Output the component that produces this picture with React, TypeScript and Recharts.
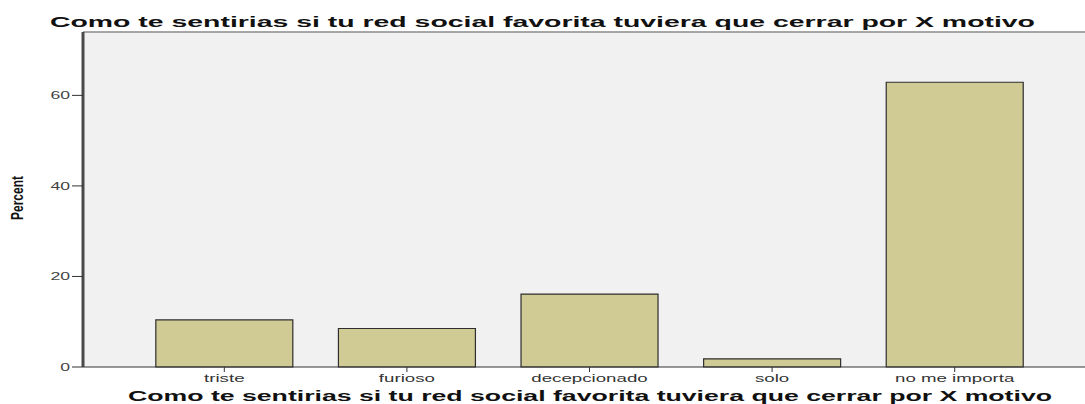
import React from "react";
import { BarChart, Bar, XAxis, YAxis, CartesianGrid, ReferenceLine } from "recharts";

const categories = ["triste", "furioso", "decepcionado", "solo", "no me importa"];
const percents = [10.4, 8.5, 16.1, 1.8, 62.9];
const yTicks = [0, 20, 40, 60];
const titleText = "Como te sentirias si tu red social favorita tuviera que cerrar por X motivo";
const yLabelText = "Percent";

const data = categories.map((c, i) => ({ name: c, value: percents[i] }));

const FONT = "'Liberation Sans', Arial, sans-serif";

const XTick = (props: any) => {
  const { x, y, payload } = props;
  return (
    <g transform={`translate(${x},${y})`}>
      <text transform="scale(1.7,1)" dy="0.71em" textAnchor="middle" fontSize={11} fill="#333" fontFamily={FONT}>
        {payload.value}
      </text>
    </g>
  );
};

const YTick = (props: any) => {
  const { x, y, payload } = props;
  return (
    <g transform={`translate(${x},${y})`}>
      <text transform="scale(1.6,1)" dy="0.355em" textAnchor="end" fontSize={11} fill="#444" fontFamily={FONT}>
        {payload.value}
      </text>
    </g>
  );
};

export default function App() {
  return (
    <div style={{ position: "absolute", left: 0, top: 0, width: 1085, height: 404, background: "#fff" }}>
      <BarChart
        width={1085}
        height={404}
        data={data}
        margin={{ top: 32, right: 0, bottom: 0, left: 0 }}
        barCategoryGap="12.5%"
      >
        <CartesianGrid fill="#f0f1f0" horizontal={false} vertical={false} stroke="none" />
        <ReferenceLine y={74} stroke="#8a8a8a" strokeWidth={1.5} ifOverflow="extendDomain" />
        <XAxis
          dataKey="name"
          height={37}
          padding={{ left: 50, right: 39 }}
          tickSize={5}
          tickMargin={2}
          axisLine={{ stroke: "#333", strokeWidth: 1 }}
          tickLine={{ stroke: "#333" }}
          tick={<XTick />}
          interval={0}
        />
        <YAxis
          width={83}
          domain={[0, 74]}
          ticks={yTicks}
          tickSize={11}
          tickMargin={2}
          axisLine={{ stroke: "#4a4a4a", strokeWidth: 3 }}
          tickLine={{ stroke: "#333" }}
          tick={<YTick />}
        />
        <Bar dataKey="value" fill="#d0cb94" stroke="#2e2e2e" strokeWidth={1.2} isAnimationActive={false} />
      </BarChart>
      <svg width={1085} height={404} style={{ position: "absolute", left: 0, top: 0, pointerEvents: "none" }}>
        <text x={50} y={26.5} textLength={985} lengthAdjust="spacingAndGlyphs" fontSize={15} fontWeight="bold" fill="#111" fontFamily={FONT}>
          {titleText}
        </text>
        <text x={128} y={400.5} textLength={924} lengthAdjust="spacingAndGlyphs" fontSize={14} fontWeight="bold" fill="#111" fontFamily={FONT}>
          {titleText}
        </text>
        <text
          transform="translate(23,198) rotate(-90)"
          textAnchor="middle"
          textLength={44}
          lengthAdjust="spacingAndGlyphs"
          fontSize={16.5}
          fontWeight="bold"
          fill="#111"
          fontFamily={FONT}
        >
          {yLabelText}
        </text>
      </svg>
    </div>
  );
}
